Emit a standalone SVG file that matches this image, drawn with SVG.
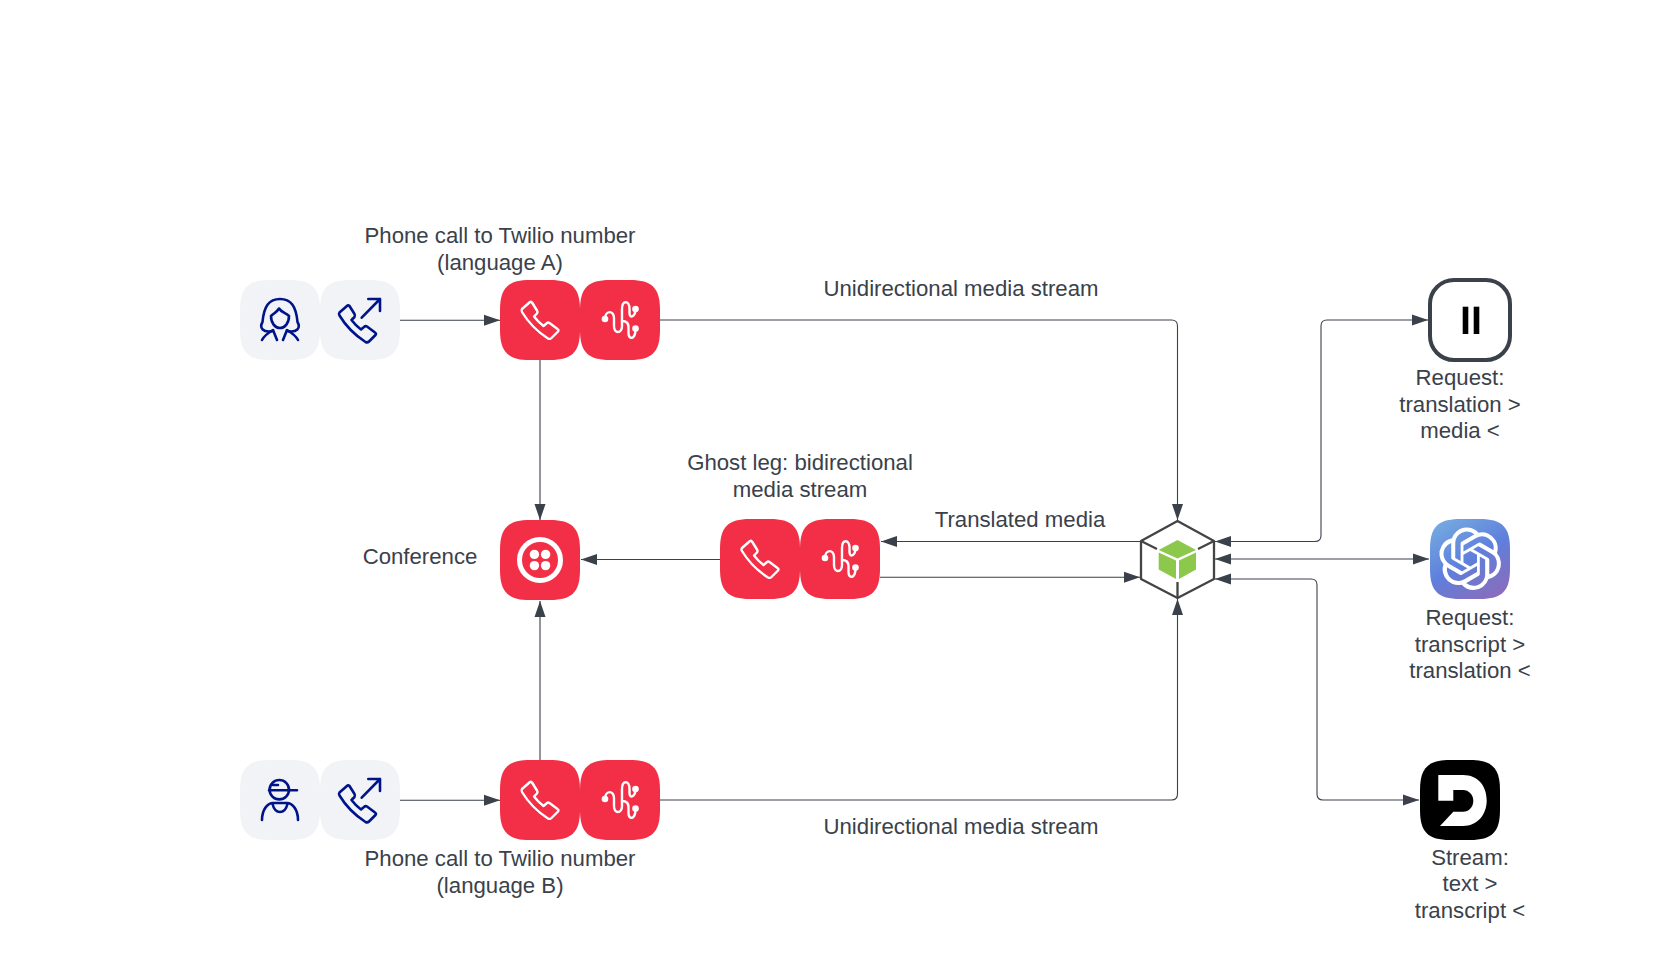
<svg xmlns="http://www.w3.org/2000/svg" width="1660" height="969" viewBox="0 0 1660 969">
<style>
.t{font-family:"Liberation Sans",Arial,sans-serif;font-size:22.2px;fill:#3a414a;text-anchor:middle}
.c{fill:none;stroke:#3a414a;stroke-width:1.1;marker-end:url(#a)}
.b{marker-start:url(#s)}
.light{fill:#f2f3f7}
.red{fill:#f22f46}
.w{fill:none;stroke:#fff;stroke-width:2.400;stroke-linecap:round;stroke-linejoin:round}
.n{fill:none;stroke:#001489;stroke-width:2.600;stroke-linecap:round;stroke-linejoin:round}
</style>
<defs>
<marker id="a" markerUnits="userSpaceOnUse" markerWidth="17" markerHeight="12" refX="16" refY="6" orient="auto"><path d="M0,.5 L16,6 L0,11.5Z" fill="#3a414a"/></marker>
<marker id="s" markerUnits="userSpaceOnUse" markerWidth="17" markerHeight="12" refX="1" refY="6" orient="auto"><path d="M17,.5 L1,6 L17,11.5Z" fill="#3a414a"/></marker>
<path id="tile" d="M30,0H50C72,0 80,8 80,30V50C80,72 72,80 50,80H30C8,80 0,72 0,50V30C0,8 8,0 30,0Z"/>
<path id="hand" d="M-10,-18L-18,-11Q-19,-9.500-18,-8C-12,2-2,12 8,18.500Q10,19.500 11.500,18L18,11.500Q19,10 17.500,9L9.500,3Q8,2 6.500,3.500L3.500,6C-.5,3-3,.5-6,-3.500L-3,-6.500Q-2,-8-3,-9.500L-8,-17.500Q-9,-18.500-10,-18Z"/>
<g id="strm"><path class="w" d="M-15,-1C-15,-10-6,-10-6,-2V6C-6,14 2,14 2,6V-11C2,-20 9.500,-20 9.500,-11V-7C9.500,-1 15.500,-3 15.500,-11"/><path class="w" d="M2,1C6,1 8.500,3 8.500,7V13C8.500,20 15.500,20 15.500,9"/><circle cx="-15" cy="-1" r="3.300" fill="#fff"/><circle cx="15.500" cy="-11" r="3.300" fill="#fff"/><circle cx="15.500" cy="8.500" r="3.300" fill="#fff"/></g>
<g id="out"><use href="#hand" x="-2.500" y="3.500" class="n"/><path class="n" d="M1.700,-2.300L20,-21M8.300,-21H20V-9"/></g>
<linearGradient id="oa" x1="0.200" y1="0" x2="0.800" y2="1"><stop offset="0" stop-color="#74a9e0"/><stop offset=".5" stop-color="#5f7fdc"/><stop offset="1" stop-color="#8a6cbc"/></linearGradient>
</defs>
<rect width="1660" height="969" fill="#fff"/>
<g id="connectors">
<path class="c" d="M400,320.300H500"/>
<path class="c" d="M660,320H1171.500Q1177.500,320 1177.500,326V520"/>
<path class="c" d="M540,360V520"/>
<path class="c" d="M540,760V601"/>
<path class="c" d="M400,800.300H500"/>
<path class="c" d="M660,800H1171.500Q1177.500,800 1177.500,794V599"/>
<path class="c" d="M720,559.500H581"/>
<path class="c" d="M1141,541.500H881"/>
<path class="c" d="M880,577.300H1140"/>
<path class="c b" d="M1215,541.500H1315Q1321,541.500 1321,535.500V326Q1321,320 1327,320H1428"/>
<path class="c b" d="M1215,559H1429"/>
<path class="c b" d="M1215,579H1311Q1317,579 1317,585V794Q1317,800 1323,800H1419"/>
</g>
<g id="caller-a">
<use href="#tile" x="240" y="280" class="light"/>
<g transform="translate(280,320)"><path class="n" d="M-7,11C-17,13-21,8-17.500,2C-16,-14-11,-21 0,-21C11,-21 16,-14 17.500,2C21,8 17,13 7,11"/><path class="n" d="M-9,-4C-6,-7-3,-8-1,-11.500C1,-8 6,-7 9,-4C9,3 5,8 0,8C-5,8-9,3-9,-4Z"/><path class="n" d="M-18,20C-16,16-12,13-7,10L-3,20M18,20C16,16 12,13 7,10L3,20"/></g>
</g>
<g id="call-out-a"><use href="#tile" x="320" y="280" class="light"/><use href="#out" x="360" y="320"/></g>
<g id="phone-a"><use href="#tile" x="500" y="280" class="red"/><use href="#hand" x="540" y="320" class="w"/></g>
<g id="stream-a"><use href="#tile" x="580" y="280" class="red"/><use href="#strm" x="620" y="320"/></g>
<text class="t" x="500" y="243">Phone call to Twilio number</text>
<text class="t" x="500" y="269.500">(language A)</text>
<text class="t" x="961" y="295.500">Unidirectional media stream</text>
<g id="conference"><use href="#tile" x="500" y="520" class="red"/><circle cx="540" cy="560" r="20.500" fill="none" stroke="#fff" stroke-width="5"/><g fill="#fff"><circle cx="534.400" cy="554.400" r="4.700"/><circle cx="545.600" cy="554.400" r="4.700"/><circle cx="534.400" cy="565.600" r="4.700"/><circle cx="545.600" cy="565.600" r="4.700"/></g></g>
<text class="t" x="420" y="564">Conference</text>
<g id="ghost-phone"><use href="#tile" x="720" y="519" class="red"/><use href="#hand" x="760" y="559" class="w"/></g>
<g id="ghost-stream"><use href="#tile" x="800" y="519" class="red"/><use href="#strm" x="840" y="559"/></g>
<text class="t" x="800" y="470.300">Ghost leg: bidirectional</text>
<text class="t" x="800" y="496.800">media stream</text>
<text class="t" x="1020" y="527.300">Translated media</text>
<g id="server">
<path d="M1177.500,521L1214,541V579L1177.500,598L1141,579V541Z" fill="#fff" stroke="#444" stroke-width="2.300" stroke-linejoin="round"/>
<path d="M1141,541L1157,549M1214,541L1198,549M1177.500,582V598" fill="none" stroke="#444" stroke-width="2.300"/>
<path d="M1177.500,540L1196,550L1177.500,558.500L1158.700,550Z" fill="#8cc84b"/>
<path d="M1158.700,552.500L1176,560.500V579L1158.700,569.500Z" fill="#8cc84b"/>
<path d="M1196,552.500L1179,560.500V579L1196,569.500Z" fill="#8cc84b"/>
</g>
<g id="pause"><rect x="1430" y="280" width="80" height="80" rx="24" fill="#fff" stroke="#3a414a" stroke-width="4"/><rect x="1462.700" y="306.700" width="5.600" height="27.300" fill="#000"/><rect x="1473.700" y="306.700" width="5.600" height="27.300" fill="#000"/></g>
<text class="t" x="1460" y="384.800">Request:</text>
<text class="t" x="1460" y="411.800">translation &gt;</text>
<text class="t" x="1460" y="438">media &lt;</text>
<g id="openai"><use href="#tile" x="1430" y="519" fill="url(#oa)"/><path transform="translate(1439,527.500) scale(2.600)" fill="#fff" d="M22.2819 9.8211a5.9847 5.9847 0 0 0-.5157-4.9108 6.0462 6.0462 0 0 0-6.5098-2.9A6.0651 6.0651 0 0 0 4.9807 4.1818a5.9847 5.9847 0 0 0-3.9977 2.9 6.0462 6.0462 0 0 0 .7427 7.0966 5.98 5.98 0 0 0 .511 4.9107 6.051 6.051 0 0 0 6.5146 2.9001A5.9847 5.9847 0 0 0 13.2599 24a6.0557 6.0557 0 0 0 5.7718-4.2058 5.9894 5.9894 0 0 0 3.9977-2.9001 6.0557 6.0557 0 0 0-.7475-7.0729zm-9.022 12.6081a4.4755 4.4755 0 0 1-2.8764-1.0408l.1419-.0804 4.7783-2.7582a.7948.7948 0 0 0 .3927-.6813v-6.7369l2.02 1.1686a.071.071 0 0 1 .038.052v5.5826a4.504 4.504 0 0 1-4.4945 4.4944zm-9.6607-4.1254a4.4708 4.4708 0 0 1-.5346-3.0137l.142.0852 4.783 2.7582a.7712.7712 0 0 0 .7806 0l5.8428-3.3685v2.3324a.0804.0804 0 0 1-.0332.0615L9.74 19.9502a4.4992 4.4992 0 0 1-6.1408-1.6464zM2.3408 7.8956a4.485 4.485 0 0 1 2.3655-1.9728V11.6a.7664.7664 0 0 0 .3879.6765l5.8144 3.3543-2.0201 1.1685a.0757.0757 0 0 1-.071 0l-4.8303-2.7865A4.504 4.504 0 0 1 2.3408 7.872zm16.5963 3.8558L13.1038 8.364 15.1192 7.2a.0757.0757 0 0 1 .071 0l4.8303 2.7913a4.4944 4.4944 0 0 1-.6765 8.1042v-5.6772a.79.79 0 0 0-.407-.667zm2.0107-3.0231l-.142-.0852-4.7735-2.7818a.7759.7759 0 0 0-.7854 0L9.409 9.2297V6.8974a.0662.0662 0 0 1 .0284-.0615l4.8303-2.7866a4.4992 4.4992 0 0 1 6.6802 4.66zM8.3065 12.863l-2.02-1.1638a.0804.0804 0 0 1-.038-.0567V6.0742a4.4992 4.4992 0 0 1 7.3757-3.4537l-.142.0805L8.704 5.459a.7948.7948 0 0 0-.3927.6813zm1.0976-2.3654l2.602-1.4998 2.6069 1.4998v2.9994l-2.5974 1.4997-2.6067-1.4997Z"/></g>
<text class="t" x="1470" y="625">Request:</text>
<text class="t" x="1470" y="652">transcript &gt;</text>
<text class="t" x="1470" y="678.300">translation &lt;</text>
<g id="deepgram"><use href="#tile" x="1420" y="760" fill="#000"/><path fill="#fff" d="M1438.300,775H1463C1478,775 1486.700,786 1486.700,800.500C1486.700,815 1477,826 1463,826H1440L1453.300,811.700H1463C1469,811.700 1473.300,807 1473.300,800.700C1473.300,795 1469,790 1463,790H1453.300V800.700H1438.300Z"/></g>
<text class="t" x="1470" y="865">Stream:</text>
<text class="t" x="1470" y="891">text &gt;</text>
<text class="t" x="1470" y="918">transcript &lt;</text>
<g id="caller-b">
<use href="#tile" x="240" y="760" class="light"/>
<g transform="translate(280,800)"><circle cx="-.7" cy="-10.300" r="9.700" class="n"/><path class="n" d="M-11,-9.700H17M-7,-15H-2"/><path class="n" d="M-18,20C-18,9-12,3-7,3H7C12,3 18,9 18,20M-7.500,4C-6,10-3,12 0,12C3,12 6,10 7.500,4"/></g>
</g>
<g id="call-out-b"><use href="#tile" x="320" y="760" class="light"/><use href="#out" x="360" y="800"/></g>
<g id="phone-b"><use href="#tile" x="500" y="760" class="red"/><use href="#hand" x="540" y="800" class="w"/></g>
<g id="stream-b"><use href="#tile" x="580" y="760" class="red"/><use href="#strm" x="620" y="800"/></g>
<text class="t" x="500" y="866">Phone call to Twilio number</text>
<text class="t" x="500" y="893">(language B)</text>
<text class="t" x="961" y="834">Unidirectional media stream</text>
</svg>
